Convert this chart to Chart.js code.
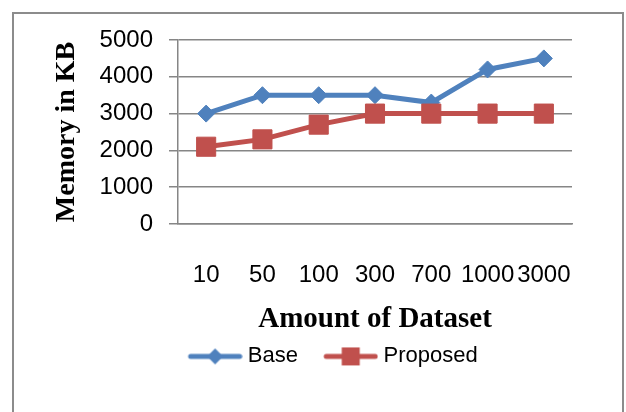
<!DOCTYPE html>
<html>
<head>
<meta charset="utf-8">
<script src="https://cdn.jsdelivr.net/npm/chart.js@4/dist/chart.umd.min.js"></script>
<style>
  html, body { margin: 0; padding: 0; background: #fff; overflow: hidden; }
  #wrap { position: relative; width: 626px; height: 412px; }
  #frame { position: absolute; left: 12px; top: 12px; width: 608px; height: 440px; border: 2px solid #8c8c8c; }
  #chart { position: absolute; left: 0; top: 0; }
</style>
</head>
<body>
<div id="wrap">
  <div id="frame"></div>
  <canvas id="chart" width="626" height="412"></canvas>
</div>
<script>
// data
const categories = ['10', '50', '100', '300', '700', '1000', '3000'];
const baseValues = [3000, 3500, 3500, 3500, 3300, 4200, 4500];
const proposedValues = [2100, 2300, 2700, 3000, 3000, 3000, 3000];
const yTicks = [0, 1000, 2000, 3000, 4000, 5000];

const BLUE = '#4F81BD';
const RED = '#C0504D';
const GRID = '#868686';
const SANS = "'Liberation Sans', Arial, sans-serif";
const SERIF = "'Liberation Serif', 'Times New Roman', serif";

// Excel style legend symbol: short line with the marker in the middle
function legendIcon(color, shape) {
    const c = document.createElement('canvas');
    c.width = 78;
    c.height = 26;
    const g = c.getContext('2d');
    g.strokeStyle = color;
    g.lineWidth = 5;
    g.lineCap = 'round';
    g.beginPath();
    g.moveTo(26, 13);
    g.lineTo(75, 13);
    g.stroke();
    g.fillStyle = color;
    g.beginPath();
    if (shape === 'diamond') {
        g.moveTo(50.5, 5);
        g.lineTo(58.5, 13);
        g.lineTo(50.5, 21);
        g.lineTo(42.5, 13);
        g.closePath();
    } else {
        g.rect(41.5, 4, 18, 18);
    }
    g.fill();
    return c;
}
const icons = [legendIcon(BLUE, 'diamond'), legendIcon(RED, 'square')];

const ctx = document.getElementById('chart').getContext('2d');
new Chart(ctx, {
    type: 'line',
    data: {
        labels: categories,
        datasets: [{
            label: 'Base',
            data: baseValues,
            borderColor: BLUE,
            backgroundColor: BLUE,
            borderWidth: 5,
            pointStyle: 'rectRot',
            pointRadius: 8.5,
            pointBorderWidth: 1,
            tension: 0,
            order: 1
        }, {
            label: 'Proposed',
            data: proposedValues,
            borderColor: RED,
            backgroundColor: RED,
            borderWidth: 5,
            pointStyle: 'rect',
            pointRadius: 13.5,
            pointBorderWidth: 1,
            tension: 0,
            order: 0
        }]
    },
    options: {
        responsive: false,
        animation: false,
        devicePixelRatio: 1,
        layout: { padding: { top: 40, left: 22, right: 0, bottom: 34.6 } },
        plugins: {
            tooltip: { enabled: false },
            legend: {
                position: 'bottom',
                labels: {
                    usePointStyle: true,
                    pointStyleWidth: 66.5,
                    padding: 8,
                    color: '#000',
                    font: { family: SANS, size: 22 },
                    sort: (a, b) => a.datasetIndex - b.datasetIndex,
                    generateLabels: (chart) => {
                        const items = Chart.defaults.plugins.legend.labels.generateLabels(chart);
                        items.forEach(it => { it.pointStyle = icons[it.datasetIndex]; });
                        return items;
                    }
                }
            }
        },
        scales: {
            x: {
                offset: true,
                grid: { display: false },
                border: { display: true, color: GRID, width: 1.5 },
                ticks: {
                    color: '#000',
                    font: { family: SANS, size: 24 },
                    padding: 29,
                    autoSkip: false,
                    maxRotation: 0
                },
                title: {
                    display: true,
                    text: 'Amount of Dataset',
                    color: '#000',
                    font: { family: SERIF, size: 29, weight: 'bold' },
                    padding: { top: 0, bottom: 0 }
                },
                afterFit: (s) => { s.height = 113.4; }
            },
            y: {
                min: yTicks[0],
                max: yTicks[yTicks.length - 1],
                grid: { color: GRID, lineWidth: 1.5, tickLength: 9 },
                border: { display: true, color: GRID, width: 1.5 },
                ticks: {
                    stepSize: yTicks[1] - yTicks[0],
                    color: '#000',
                    font: { family: SANS, size: 24 },
                    padding: 16,
                    callback: (v) => String(v)
                },
                title: {
                    display: true,
                    text: 'Memory in KB',
                    color: '#000',
                    font: { family: SERIF, size: 28, weight: 'bold' },
                    padding: { top: 28, bottom: 0 }
                },
                afterFit: (s) => { s.width = 156; }
            },
            // empty right axis, only keeps the plot clear of the right edge
            yRight: {
                type: 'linear',
                position: 'right',
                grid: { display: false },
                border: { display: false },
                ticks: { display: false },
                afterFit: (s) => { s.width = 54; }
            }
        }
    }
});
</script>
</body>
</html>
